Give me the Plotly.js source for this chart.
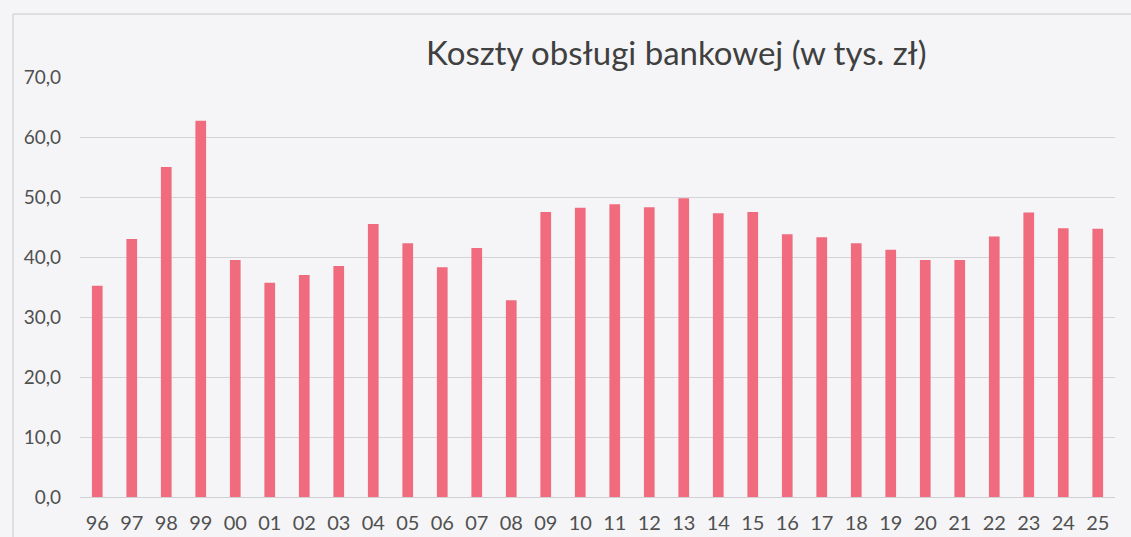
<!DOCTYPE html>
<html>
<head>
<meta charset="utf-8">
<script src="https://cdn.plot.ly/plotly-3.0.1.min.js"></script>
<style>html,body{margin:0;padding:0;background:#f5f5f7;}#chart{width:1131px;height:537px;}</style>
</head>
<body>
<div id="chart"></div>
<script>
const years = ["96","97","98","99","00","01","02","03","04","05","06","07","08","09","10","11","12","13","14","15","16","17","18","19","20","21","22","23","24","25"];
const costs = [35.2,43.0,55.0,62.7,39.5,35.7,37.0,38.5,45.5,42.3,38.3,41.5,32.8,47.5,48.2,48.8,48.3,49.8,47.3,47.5,43.8,43.3,42.3,41.2,39.5,39.5,43.4,47.4,44.8,44.7];
const titleText = "Koszty obsługi bankowej (w tys. zł)";

const font = "Lato, 'Open Sans', sans-serif";
Plotly.newPlot("chart", [{
  type: "bar",
  x: years,
  y: costs,
  marker: {color: "#ef6b7d"},
  hoverinfo: "x+y"
}], {
  width: 1131, height: 537,
  paper_bgcolor: "#f5f5f7",
  plot_bgcolor: "#f5f5f7",
  margin: {l: 80, r: 16, t: 77, b: 40},
  separators: ", ",
  bargap: 0.69,
  showlegend: false,
  title: {text: titleText, x: 0.598, xref: "container", xanchor: "center", y: 0.9, yref: "container", yanchor: "middle",
          font: {family: font, size: 33, color: "#404040"}},
  xaxis: {type: "category", tickfont: {family: font, size: 20, color: "#505050"}, showgrid: false,
          showline: true, linecolor: "#d0d0d4", linewidth: 1, ticks: "", ticklabelstandoff: 8, automargin: false},
  yaxis: {range: [0, 70], dtick: 10, tickformat: ".1f", tickfont: {family: font, size: 19, color: "#505050"},
          gridcolor: "#d4d4d8", gridwidth: 1, zeroline: false, ticks: "", ticklabelstandoff: 18, automargin: false},
  shapes: [{type: "rect", xref: "paper", yref: "paper", x0: -0.0647, x1: 1.05, y0: -0.12, y1: 1.15,
            line: {color: "#c8c8cc", width: 1}, fillcolor: "rgba(0,0,0,0)", layer: "below"}]
}, {displayModeBar: false, staticPlot: false});
</script>
</body>
</html>
